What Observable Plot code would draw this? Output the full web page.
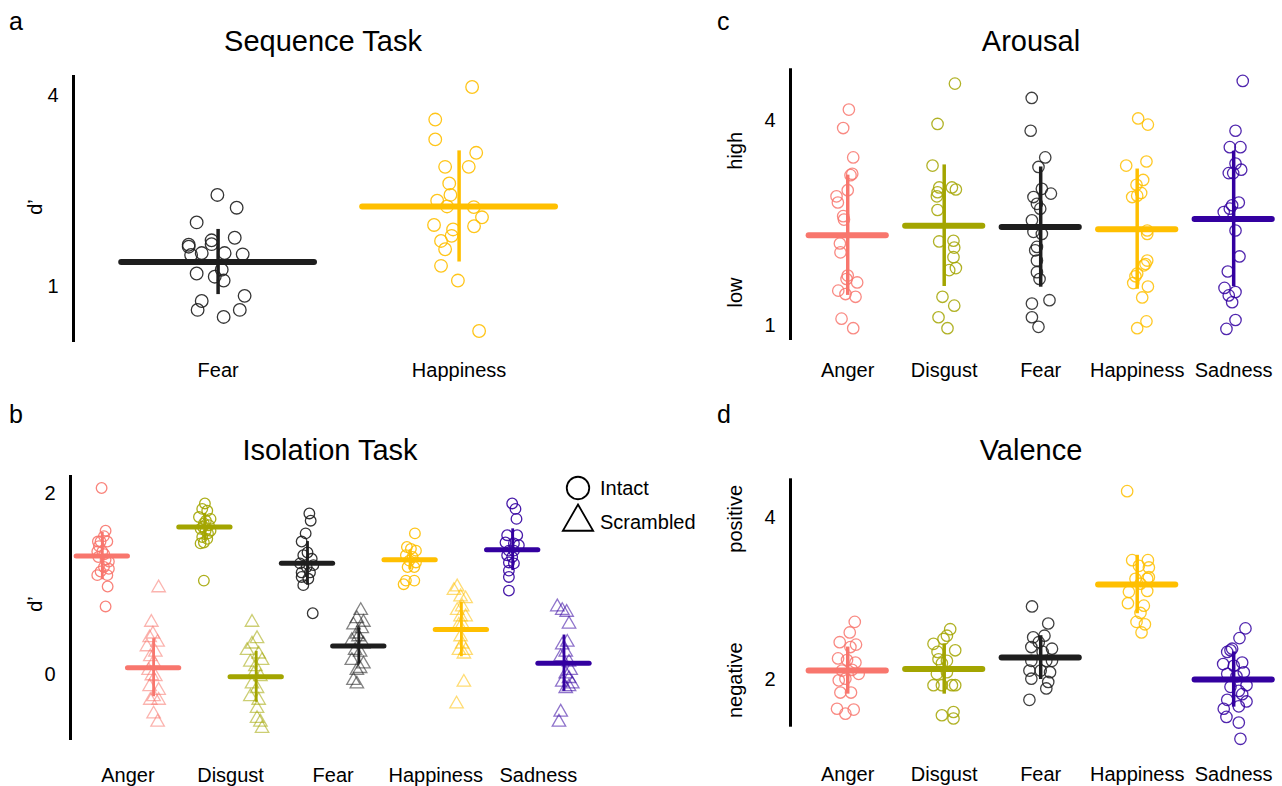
<!DOCTYPE html>
<html>
<head>
<meta charset="utf-8">
<script src="https://cdn.jsdelivr.net/npm/d3@7"></script>
<script src="https://cdn.jsdelivr.net/npm/@observablehq/plot@0.6"></script>
<style>
  body { margin: 0; background: #fff; font-family: "Liberation Sans", Arial, sans-serif; }
  #root { position: relative; width: 1282px; height: 786px; overflow: hidden; background: #fff; }
  .panel { position: absolute; }
  .title { position: absolute; font-size: 29px; line-height: 1; transform: translate(-50%, -50%); white-space: nowrap; color: #000; }
  .letter { position: absolute; font-size: 25px; line-height: 1; color: #000; }
  .legendbox { position: absolute; }
</style>
</head>
<body>
<div id="root"></div>
<script>
// ---------------- data ----------------
const emotions = ["Anger", "Disgust", "Fear", "Happiness", "Sadness"];
const emotionColors = ["#f8766d", "#a3a500", "#1e1e1e", "#ffbf00", "#3300a0"];

// Panel a: Sequence Task (d')
const seqCategories = ["Fear", "Happiness"];
const seqColors = ["#1e1e1e", "#ffbf00"];
const seqValues = [
  [2.44, 2.24, 2.01, 1.77, 1.66, 1.63, 1.73, 1.67, 1.53, 1.53, 1.51, 1.50, 1.27, 1.21, 1.16, 1.10, 0.78, 0.86, 0.64, 0.64, 0.53],
  [4.13, 3.62, 3.31, 3.10, 2.88, 2.88, 2.62, 2.44, 2.35, 2.26, 2.25, 2.09, 1.97, 1.90, 1.95, 1.80, 1.72, 1.59, 1.33, 1.10, 0.31]
];
const seqJitter = [
  [-0.003, 0.077, -0.089, 0.069, -0.122, -0.122, -0.027, -0.027, -0.068, 0.027, 0.102, -0.112, 0.015, -0.089, -0.014, 0.023, -0.068, 0.110, -0.085, 0.090, 0.023],
  [0.054, -0.099, -0.099, 0.071, -0.058, 0.040, -0.041, -0.036, -0.091, -0.050, 0.061, 0.095, -0.104, -0.025, 0.062, -0.031, -0.075, -0.058, -0.075, -0.005, 0.083]
];
const seqMeans = [1.39, 2.26];
const seqErrors = [0.51, 0.87];

// Panel b: Isolation Task (d'), intact vs scrambled
const isoConditions = ["Intact", "Scrambled"];
const isoIntactValues = [
  [2.06, 1.59, 1.53, 1.47, 1.47, 1.47, 1.36, 1.36, 1.27, 1.25, 1.19, 1.17, 1.10, 1.10, 0.975, 0.755, 1.42, 1.14, 1.30, 1.33],
  [1.89, 1.83, 1.81, 1.74, 1.72, 1.67, 1.65, 1.61, 1.59, 1.59, 1.52, 1.50, 1.45, 1.46, 1.04, 1.70, 1.56, 1.63],
  [1.78, 1.70, 1.56, 1.47, 1.35, 1.32, 1.28, 1.23, 1.21, 1.19, 1.13, 1.13, 1.08, 1.06, 0.99, 0.68],
  [1.56, 1.41, 1.39, 1.37, 1.32, 1.30, 1.26, 1.24, 1.19, 1.19, 1.04, 1.04, 1.00],
  [1.89, 1.83, 1.72, 1.54, 1.54, 1.46, 1.45, 1.43, 1.37, 1.37, 1.32, 1.30, 1.24, 1.23, 1.15, 1.08, 0.93]
];
const isoIntactJitter = [
  [-0.007, 0.032, 0.016, -0.043, -0.017, 0.049, -0.049, 0.0, 0.032, 0.064, 0.016, 0.064, -0.049, 0.049, 0.052, 0.032, -0.033, -0.017, -0.039, 0.019],
  [0.0, -0.026, 0.023, -0.058, 0.055, -0.01, 0.039, -0.042, 0.007, 0.055, -0.026, 0.023, -0.042, -0.01, -0.01, 0.01, 0.03, -0.02],
  [0.018, 0.031, -0.018, -0.057, 0.0, -0.041, 0.041, -0.073, 0.057, -0.008, -0.057, 0.024, -0.057, 0.008, -0.041, 0.051],
  [0.047, -0.031, 0.008, 0.057, -0.041, 0.024, -0.008, 0.057, -0.024, 0.041, -0.041, 0.041, -0.063],
  [-0.005, 0.027, 0.037, -0.054, 0.044, -0.07, 0.012, 0.06, -0.037, 0.012, -0.054, -0.005, -0.037, 0.012, -0.037, -0.037, -0.037]
];
const isoScrambledValues = [
  [0.96, 0.58, 0.45, 0.41, 0.36, 0.31, 0.25, 0.20, 0.14, 0.05, -0.01, -0.02, -0.13, -0.17, -0.24, -0.28, -0.28, -0.43, -0.52],
  [0.58, 0.40, 0.34, 0.27, 0.23, 0.16, 0.14, 0.09, 0.01, -0.02, -0.10, -0.15, -0.24, -0.28, -0.37, -0.48, -0.52, -0.59],
  [0.71, 0.62, 0.58, 0.55, 0.51, 0.45, 0.42, 0.38, 0.34, 0.27, 0.25, 0.16, 0.12, 0.05, 0.07, -0.06, -0.10],
  [0.97, 0.93, 0.84, 0.86, 0.75, 0.71, 0.64, 0.64, 0.56, 0.55, 0.42, 0.34, 0.27, 0.27, 0.23, -0.08, -0.32],
  [0.75, 0.71, 0.69, 0.56, 0.36, 0.33, 0.25, 0.20, 0.14, 0.05, 0.01, -0.04, -0.08, -0.10, -0.15, -0.13, -0.41, -0.52]
];
const isoScrambledJitter = [
  [0.049, -0.022, -0.007, -0.039, 0.039, -0.065, 0.017, -0.032, 0.0, -0.049, -0.017, 0.017, -0.039, 0.049, 0.0, -0.032, 0.049, 0.0, 0.039],
  [-0.041, 0.008, -0.041, -0.089, 0.024, 0.057, -0.057, -0.008, -0.024, 0.041, -0.041, 0.008, -0.057, 0.024, 0.008, 0.008, 0.041, 0.057],
  [0.019, -0.019, 0.045, -0.052, 0.029, -0.019, -0.003, -0.068, 0.045, -0.036, 0.013, -0.068, 0.045, -0.019, 0.013, -0.052, -0.019],
  [-0.041, -0.073, 0.041, -0.008, 0.008, -0.041, 0.041, -0.008, 0.008, -0.024, -0.008, 0.008, 0.041, -0.024, 0.024, 0.024, -0.047],
  [-0.065, -0.017, 0.026, 0.049, 0.032, -0.017, 0.017, -0.032, 0.049, 0.065, 0.017, 0.049, -0.017, 0.081, 0.017, 0.049, -0.032, -0.049]
];
const isoIntactMeans = [1.31, 1.63, 1.23, 1.27, 1.38];
const isoIntactErrors = [0.26, 0.15, 0.24, 0.11, 0.23];
const isoScrambledMeans = [0.08, -0.02, 0.32, 0.50, 0.13];
const isoScrambledErrors = [0.32, 0.28, 0.20, 0.30, 0.31];

// Panel c: Arousal ratings
const arousalValues = [
  [4.16, 3.89, 3.46, 3.22, 3.20, 2.98, 2.89, 2.80, 2.60, 2.55, 2.20, 2.07, 1.73, 1.68, 1.63, 1.51, 1.46, 1.42, 1.10, 0.96],
  [4.54, 3.95, 3.34, 3.02, 2.95, 2.89, 3.02, 2.99, 2.69, 2.23, 2.24, 2.14, 2.00, 1.84, 1.81, 1.42, 1.29, 1.12, 0.96],
  [4.33, 3.85, 3.46, 3.32, 3.00, 2.93, 2.88, 2.78, 2.71, 2.54, 2.34, 2.37, 2.15, 2.10, 1.95, 1.78, 1.68, 1.37, 1.32, 1.12, 0.98],
  [4.03, 3.94, 3.34, 3.40, 3.13, 3.06, 2.94, 2.88, 2.90, 2.39, 2.34, 1.95, 1.90, 1.88, 1.76, 1.72, 1.62, 1.57, 1.41, 1.06, 0.96],
  [4.58, 3.85, 3.61, 3.61, 3.37, 3.28, 3.23, 3.23, 2.80, 2.76, 2.66, 2.71, 2.39, 2.01, 1.79, 1.55, 1.49, 1.44, 1.34, 1.08, 0.95]
];
const arousalJitter = [
  [0.012, -0.047, 0.057, 0.047, 0.029, 0.0, -0.116, -0.102, -0.047, -0.039, -0.081, -0.075, 0.0, -0.012, 0.098, -0.098, -0.023, 0.081, -0.064, 0.057],
  [0.111, -0.069, -0.121, -0.052, -0.069, -0.076, 0.08, 0.121, -0.069, -0.052, 0.096, 0.104, 0.096, 0.121, 0.052, -0.018, 0.104, -0.059, 0.034],
  [-0.093, -0.104, 0.047, -0.023, 0.012, 0.106, -0.075, -0.039, -0.005, -0.091, 0.012, -0.075, -0.039, -0.057, -0.039, -0.039, -0.012, 0.091, -0.091, -0.091, -0.023],
  [0.01, 0.111, -0.114, 0.096, 0.062, -0.007, 0.041, -0.052, 0.0, 0.104, 0.104, 0.104, 0.086, 0.069, 0.0, -0.018, -0.041, 0.111, 0.052, 0.096, 0.0],
  [0.094, 0.019, -0.04, 0.07, 0.019, 0.078, -0.051, -0.005, 0.053, -0.016, -0.103, -0.04, 0.019, 0.06, -0.061, -0.095, 0.019, -0.051, -0.016, 0.019, -0.075]
];
const arousalMeans = [2.32, 2.46, 2.44, 2.41, 2.56];
const arousalErrors = [0.88, 0.89, 0.88, 0.88, 0.99];

// Panel d: Valence ratings
const valenceValues = [
  [2.71, 2.58, 2.46, 2.43, 2.40, 2.26, 2.24, 2.21, 2.11, 2.12, 2.07, 1.99, 2.01, 1.84, 1.84, 1.64, 1.58, 1.63],
  [2.62, 2.54, 2.50, 2.44, 2.36, 2.34, 2.25, 2.23, 2.20, 2.07, 2.09, 1.93, 1.93, 1.93, 1.93, 1.56, 1.60, 1.52],
  [2.90, 2.69, 2.52, 2.54, 2.46, 2.40, 2.38, 2.34, 2.23, 2.23, 2.23, 2.11, 2.11, 2.09, 2.01, 1.97, 1.89, 1.75],
  [4.32, 3.47, 3.47, 3.40, 3.38, 3.24, 3.24, 3.26, 3.18, 3.08, 3.09, 2.94, 2.91, 2.82, 2.71, 2.68, 2.58],
  [2.63, 2.51, 2.36, 2.34, 2.38, 2.19, 2.21, 2.17, 2.09, 2.07, 2.04, 1.93, 1.91, 1.86, 1.82, 1.75, 1.73, 1.64, 1.67, 1.54, 1.47, 1.27]
];
const valenceJitter = [
  [0.073, 0.021, -0.083, 0.086, 0.028, -0.1, -0.007, 0.08, -0.059, 0.045, 0.114, -0.093, -0.024, -0.076, 0.034, -0.111, -0.024, 0.062],
  [0.062, 0.028, -0.007, -0.111, 0.114, -0.069, -0.059, 0.028, -0.024, -0.076, 0.028, -0.111, -0.024, 0.08, 0.114, -0.024, 0.096, 0.096],
  [-0.09, 0.078, -0.078, 0.039, -0.02, -0.097, 0.117, 0.02, -0.097, 0.058, 0.117, -0.117, 0.0, 0.097, -0.097, 0.078, 0.058, -0.117],
  [-0.104, -0.052, 0.111, 0.018, 0.121, -0.018, 0.104, 0.121, 0.034, -0.086, 0.104, -0.096, 0.069, 0.034, -0.007, 0.08, 0.045],
  [0.122, 0.06, -0.033, -0.067, -0.016, -0.109, 0.088, 0.001, 0.105, -0.067, 0.029, 0.133, -0.033, 0.053, 0.088, -0.067, 0.133, -0.103, 0.053, -0.075, 0.053, 0.07]
];
const valenceMeans = [2.11, 2.13, 2.27, 3.17, 2.00];
const valenceErrors = [0.29, 0.31, 0.27, 0.36, 0.34];

// ---------------- drawing ----------------
const FONT = '"Liberation Sans", Arial, sans-serif';
const root = document.getElementById("root");

function addText(cls, text, x, y) {
  const d = document.createElement("div");
  d.className = cls;
  d.textContent = text;
  d.style.left = x + "px";
  d.style.top = y + "px";
  root.appendChild(d);
}

function makePanel(cfg) {
  const marks = [];
  marks.push(Plot.ruleX([cfg.xDomain[0]], {stroke: "black", strokeWidth: 3}));
  for (const g of cfg.groups) {
    marks.push(Plot.dot(g.values, {
      x: (d, i) => g.pos + g.jitter[i],
      y: d => d,
      r: g.symbol === "triangle" ? cfg.triR : cfg.dotR,
      symbol: g.symbol,
      fill: "none",
      stroke: g.color,
      strokeWidth: 1.3,
      strokeOpacity: g.opacity
    }));
  }
  for (const g of cfg.groups) {
    marks.push(Plot.ruleX([g], {
      x: "pos", y1: d => d.mean - d.err, y2: d => d.mean + d.err,
      stroke: g.color, strokeWidth: cfg.errWidth
    }));
    marks.push(Plot.ruleY([g], {
      y: "mean", x1: d => d.pos - cfg.halfWidth, x2: d => d.pos + cfg.halfWidth,
      stroke: g.color, strokeWidth: cfg.meanWidth, strokeLinecap: "round"
    }));
  }
  for (const t of cfg.sideLabels) {
    marks.push(Plot.text([t.text], {
      text: d => d, frameAnchor: t.anchor, dx: t.dx, dy: t.dy,
      rotate: -90, fontSize: 20, fill: "black", textAnchor: "middle", lineAnchor: "middle"
    }));
  }
  const f = cfg.frame;
  const svg = Plot.plot({
    width: cfg.width,
    height: cfg.height,
    marginLeft: f.left - cfg.left,
    marginRight: cfg.left + cfg.width - f.right,
    marginTop: f.top - cfg.top,
    marginBottom: cfg.top + cfg.height - f.bottom,
    x: {domain: cfg.xDomain, ticks: cfg.xTicks, tickFormat: i => cfg.xLabels[i], tickSize: 0, tickPadding: cfg.xPad, label: null},
    y: {domain: cfg.yDomain, ticks: cfg.yTicks, tickFormat: d => String(d), tickSize: 0, tickPadding: 15, label: null},
    style: {fontFamily: FONT, fontSize: "20px", color: "black", background: "transparent", overflow: "visible"},
    marks
  });
  svg.classList.add("panel");
  svg.style.left = cfg.left + "px";
  svg.style.top = cfg.top + "px";
  root.appendChild(svg);
}

// Panel a
makePanel({
  left: 0, top: 60, width: 640, height: 320,
  frame: {left: 73, right: 603.2, top: 75, bottom: 342},
  xDomain: [-0.6, 1.6], yDomain: [0.13, 4.31],
  xTicks: [0, 1], xLabels: seqCategories, xPad: 20, yTicks: [1, 4],
  halfWidth: 0.4, meanWidth: 6, errWidth: 3.5, dotR: 6.3, triR: 5,
  groups: seqCategories.map((c, i) => ({pos: i, values: seqValues[i], jitter: seqJitter[i], mean: seqMeans[i], err: seqErrors[i], color: seqColors[i], symbol: "circle", opacity: 0.9})),
  sideLabels: [{text: "d’", anchor: "left", dx: -38, dy: -2}]
});

// Panel b
const isoGroups = [];
emotions.forEach((e, i) => {
  isoGroups.push({pos: i - 0.25, values: isoIntactValues[i], jitter: isoIntactJitter[i], mean: isoIntactMeans[i], err: isoIntactErrors[i], color: emotionColors[i], symbol: "circle", opacity: 0.9});
  isoGroups.push({pos: i + 0.25, values: isoScrambledValues[i], jitter: isoScrambledJitter[i], mean: isoScrambledMeans[i], err: isoScrambledErrors[i], color: emotionColors[i], symbol: "triangle", opacity: 0.55});
});
makePanel({
  left: 0, top: 460, width: 700, height: 326,
  frame: {left: 70, right: 599.4, top: 475, bottom: 740},
  xDomain: [-0.56, 4.6], yDomain: [-0.722, 2.198],
  xTicks: [0, 1, 2, 3, 4], xLabels: emotions, xPad: 27, yTicks: [0, 2],
  halfWidth: 0.25, meanWidth: 5, errWidth: 2.8, dotR: 5.3, triR: 5,
  groups: isoGroups,
  sideLabels: [{text: "d’", anchor: "left", dx: -35, dy: -4}]
});

// Panel c
makePanel({
  left: 690, top: 60, width: 592, height: 320,
  frame: {left: 790, right: 1276.6, top: 68.3, bottom: 340},
  xDomain: [-0.593, 4.45], yDomain: [0.78, 4.757],
  xTicks: [0, 1, 2, 3, 4], xLabels: emotions, xPad: 22, yTicks: [1, 4],
  halfWidth: 0.4, meanWidth: 6, errWidth: 3.5, dotR: 5.7, triR: 5,
  groups: emotions.map((e, i) => ({pos: i, values: arousalValues[i], jitter: arousalJitter[i], mean: arousalMeans[i], err: arousalErrors[i], color: emotionColors[i], symbol: "circle", opacity: 0.85})),
  sideLabels: [
    {text: "high", anchor: "top-left", dx: -55, dy: 82},
    {text: "low", anchor: "bottom-left", dx: -55, dy: -48}
  ]
});

// Panel d
makePanel({
  left: 690, top: 460, width: 592, height: 326,
  frame: {left: 790, right: 1276.6, top: 478.3, bottom: 726.7},
  xDomain: [-0.593, 4.45], yDomain: [1.413, 4.472],
  xTicks: [0, 1, 2, 3, 4], xLabels: emotions, xPad: 40, yTicks: [2, 4],
  halfWidth: 0.4, meanWidth: 6, errWidth: 3.5, dotR: 5.7, triR: 5,
  groups: emotions.map((e, i) => ({pos: i, values: valenceValues[i], jitter: valenceJitter[i], mean: valenceMeans[i], err: valenceErrors[i], color: emotionColors[i], symbol: "circle", opacity: 0.85})),
  sideLabels: [
    {text: "positive", anchor: "top-left", dx: -55, dy: 40},
    {text: "negative", anchor: "bottom-left", dx: -55, dy: -47}
  ]
});

// Legend for panel b
const leg = Plot.legend({
  symbol: {domain: isoConditions, range: ["circle", "triangle"]},
  columns: 1, r: 7.5, swatchSize: 24, stroke: "black", strokeWidth: 1.2, fill: "none",
  className: "isoleg",
  style: {fontFamily: FONT, fontSize: "20px", color: "black"}
});
const lb = document.createElement("div");
lb.className = "legendbox";
lb.style.left = "566px";
lb.style.top = "476px";
lb.appendChild(leg);
root.appendChild(lb);

// Titles and panel letters
addText("title", "Sequence Task", 323, 41);
addText("title", "Isolation Task", 330, 450);
addText("title", "Arousal", 1031, 41);
addText("title", "Valence", 1031, 450);
addText("letter", "a", 9, 9);
addText("letter", "b", 9, 402);
addText("letter", "c", 717, 9);
addText("letter", "d", 717, 402);
</script>
<style>
  .isoleg-swatch { margin-bottom: 9px !important; }
</style>
</body>
</html>
